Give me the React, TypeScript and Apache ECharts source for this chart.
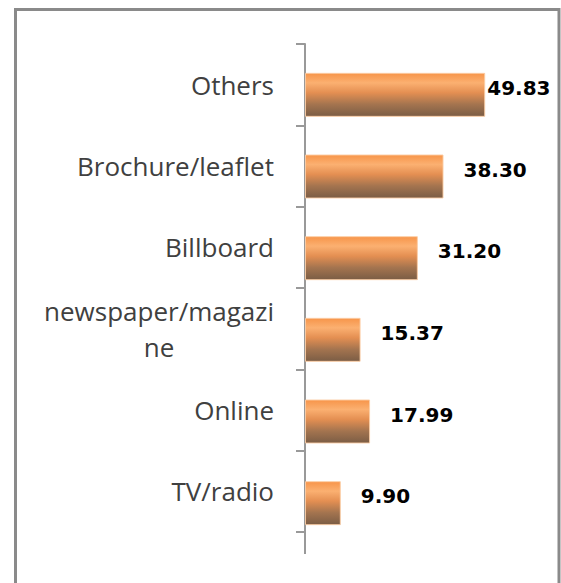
import React, { useEffect, useRef } from 'react';
import * as echarts from 'echarts';

const categories = ['Others', 'Brochure/leaflet', 'Billboard', 'newspaper/magazine', 'Online', 'TV/radio'];
const values = [49.83, 38.3, 31.2, 15.37, 17.99, 9.9];
const valueMax = 60;

export default function App() {
  const ref = useRef<HTMLDivElement>(null);
  useEffect(() => {
    const chart = echarts.init(ref.current!, null, { renderer: 'svg' });
    const barGradient = new echarts.graphic.LinearGradient(0, 0, 0, 1, [
      { offset: 0, color: '#F7954A' },
      { offset: 0.22, color: '#FBB071' },
      { offset: 0.45, color: '#E48F52' },
      { offset: 0.72, color: '#A4744F' },
      { offset: 1, color: '#7B5D45' },
    ]);
    const labelFont = { fontFamily: 'Open Sans', fontSize: 26, color: '#404040', lineHeight: 36 };
    chart.setOption({
      animation: false,
      grid: [
        { left: 305, top: 44, width: 217, height: 488 },
        { left: 305, top: 54, width: 217, height: 490 },
      ],
      xAxis: [
        { gridIndex: 0, type: 'value', min: 0, max: valueMax, show: false },
        { gridIndex: 1, type: 'value', min: 0, max: valueMax, show: false },
      ],
      yAxis: [
        {
          gridIndex: 0,
          type: 'category',
          inverse: true,
          data: categories,
          axisLine: { show: true, lineStyle: { color: '#999999', width: 2 } },
          axisTick: { show: true, length: 9, lineStyle: { color: '#999999', width: 2 } },
          splitLine: { show: false },
          axisLabel: {
            margin: 31,
            ...labelFont,
            formatter: (v: string) =>
              v === 'newspaper/magazine' ? '{a|newspaper/magazi}\n{b|ne}' : v,
            rich: {
              a: { ...labelFont },
              b: { ...labelFont, align: 'center' },
            },
          },
        },
        { gridIndex: 1, type: 'category', inverse: true, data: categories, show: false },
      ],
      series: [
        {
          type: 'bar',
          xAxisIndex: 1,
          yAxisIndex: 1,
          barWidth: 44,
          data: values.map((v, i) => (i === 0 ? { value: v, label: { distance: 2 } } : v)),
          itemStyle: { color: barGradient, borderColor: 'rgba(252,205,165,0.9)', borderWidth: 1 },
          label: {
            show: true,
            position: 'right',
            distance: 20,
            offset: [0, -7],
            fontFamily: 'DejaVu Sans',
            fontWeight: 'bold',
            fontSize: 20,
            color: '#000000',
            formatter: (p: any) => Number(p.value).toFixed(2),
          },
        },
      ],
      graphic: [
        {
          type: 'line',
          shape: { x1: 305, y1: 532, x2: 305, y2: 554 },
          style: { stroke: '#999999', lineWidth: 2 },
        },
        {
          type: 'rect',
          shape: { x: 15.5, y: 9.5, width: 543.5, height: 640 },
          style: { fill: 'none', stroke: '#8a8a8a', lineWidth: 3 },
        },
      ],
    });
    return () => chart.dispose();
  }, []);
  return (
    <div
      ref={ref}
      style={{ position: 'absolute', left: 0, top: 0, width: 561, height: 583, background: '#ffffff' }}
    />
  );
}
